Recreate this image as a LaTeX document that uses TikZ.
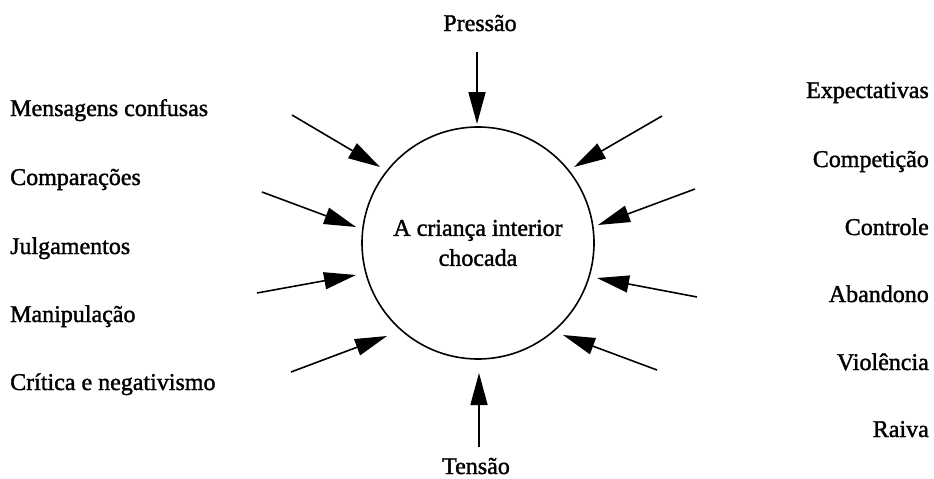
\documentclass[tikz,border=0pt]{standalone}
\usepackage{fontspec}
\setmainfont{Liberation Serif}[BoldFont=Liberation Serif,BoldFeatures={FakeBold=1.5}]
\usetikzlibrary{arrows.meta}
\begin{document}
\begin{tikzpicture}[x=1pt,y=-1pt,
  lbl/.style={inner sep=0pt,font=\fontsize{24}{30}\selectfont\bfseries},
  push/.style={line width=1.6pt,-{Triangle[length=32pt,width=17pt]}}]
\useasboundingbox (0,0) rectangle (934,479);
\node[circle,draw,line width=1.6pt,minimum size=232pt,inner sep=0pt,align=center,
  font=\fontsize{24}{30}\selectfont\bfseries] (c) at (478,243) {A criança interior\\chocada};
% labels
\node[lbl,anchor=base] (top) at (480,31) {Pressão};
\node[lbl,anchor=base] (bot) at (476,474) {Tensão};
\node[lbl,anchor=base west] (l1) at (10,116) {Mensagens confusas};
\node[lbl,anchor=base west] (l2) at (10,185) {Comparações};
\node[lbl,anchor=base west] (l3) at (10,254) {Julgamentos};
\node[lbl,anchor=base west] (l4) at (10,322) {Manipulação};
\node[lbl,anchor=base west] (l5) at (10,390) {Crítica e negativismo};
\node[lbl,anchor=base east] (r1) at (929,98) {Expectativas};
\node[lbl,anchor=base east] (r2) at (929,167) {Competição};
\node[lbl,anchor=base east] (r3) at (929,235) {Controle};
\node[lbl,anchor=base east] (r4) at (929,302) {Abandono};
\node[lbl,anchor=base east] (r5) at (929,370) {Violência};
\node[lbl,anchor=base east] (r6) at (929,437) {Raiva};
% arrow ends
\coordinate (sT) at (477,52);  \coordinate (tT) at (477,124);
\coordinate (sB) at (479,447); \coordinate (tB) at (479,373);
\coordinate (sL1) at (292,115); \coordinate (tL1) at (380,167);
\coordinate (sL2) at (262,192); \coordinate (tL2) at (356,227);
\coordinate (sL3) at (257,293); \coordinate (tL3) at (356,275);
\coordinate (sL4) at (291,372); \coordinate (tL4) at (387,336);
\coordinate (sR1) at (662,116); \coordinate (tR1) at (574,167);
\coordinate (sR2) at (695,189); \coordinate (tR2) at (598,225);
\coordinate (sR3) at (697,297); \coordinate (tR3) at (597,278);
\coordinate (sR4) at (657,370); \coordinate (tR4) at (563,335);
\foreach \a in {T,B,L1,L2,L3,L4,R1,R2,R3,R4}
  \draw[push] (s\a) -- (t\a);
\end{tikzpicture}
\end{document}
